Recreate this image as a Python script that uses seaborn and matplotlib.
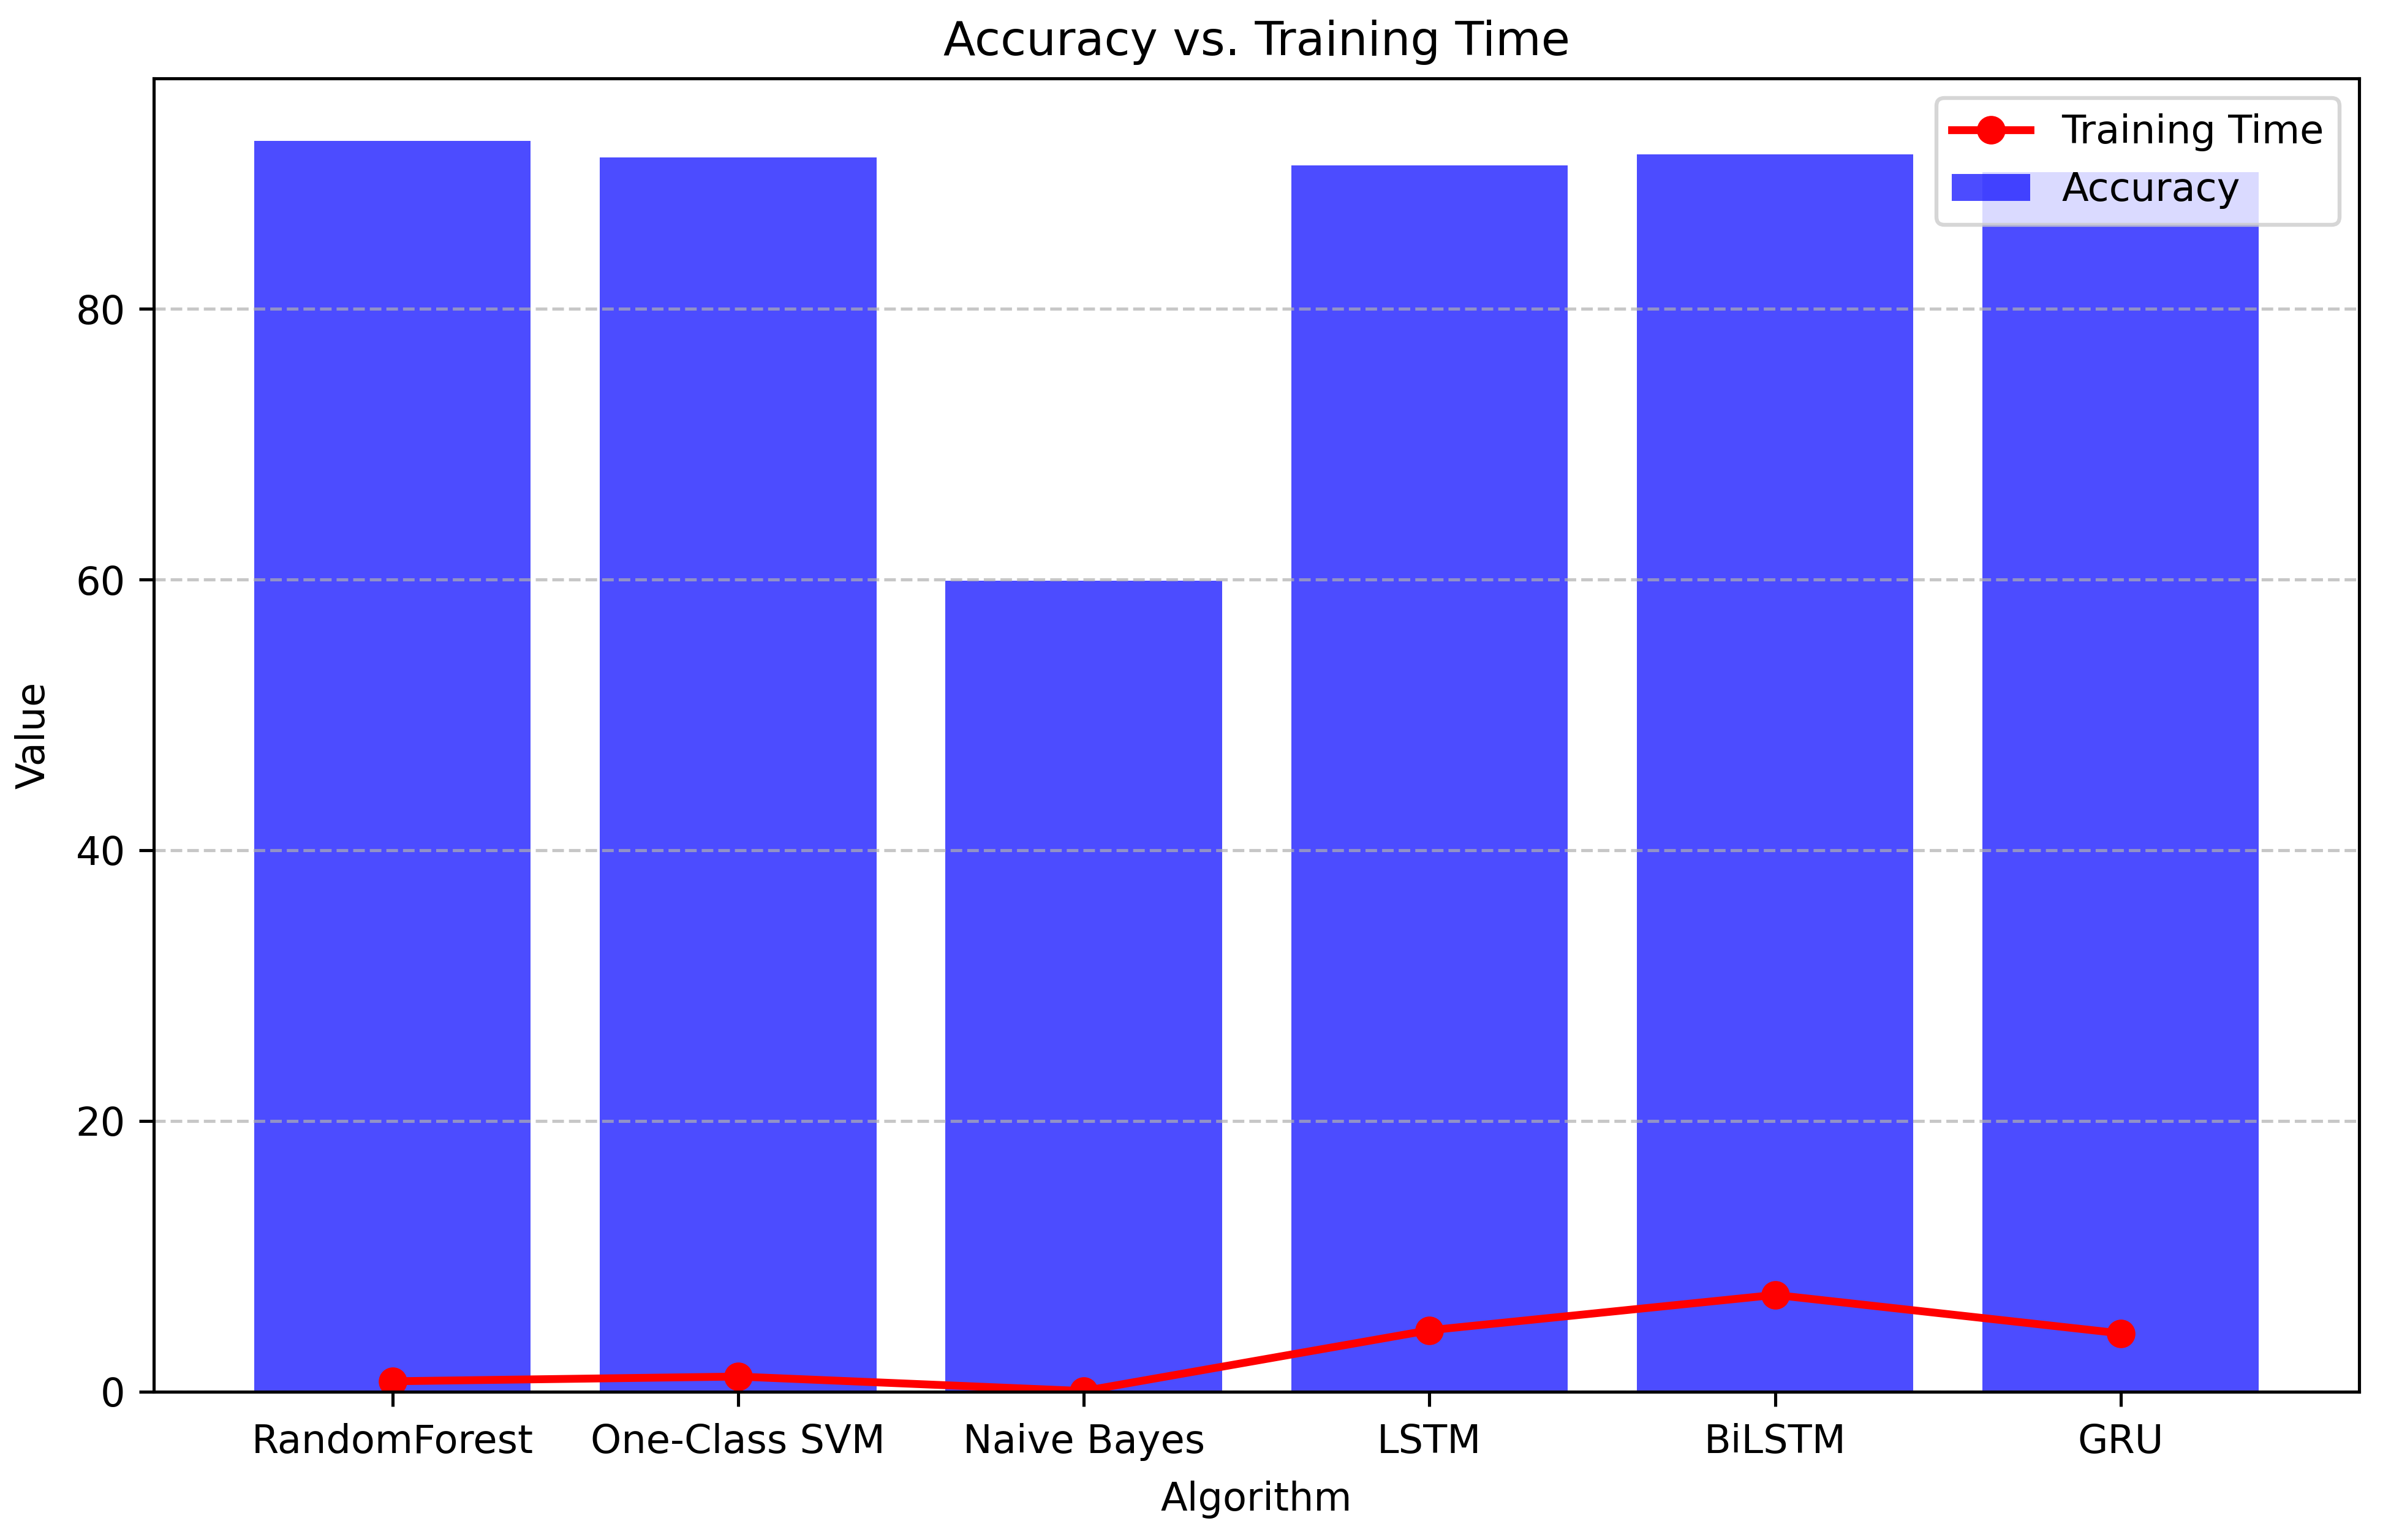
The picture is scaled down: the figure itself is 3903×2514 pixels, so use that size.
import matplotlib
matplotlib.use("Agg")
import matplotlib.pyplot as plt
import seaborn as sns
import pandas as pd

algorithms = ["RandomForest", "One-Class SVM", "Naive Bayes", "LSTM", "BiLSTM", "GRU"]
accuracy = [92.4, 91.2, 59.9, 90.6, 91.4, 90.1]
training_time = [0.77, 1.12, 0.05, 4.54, 7.15, 4.31]

df = pd.DataFrame({"Algorithm": algorithms,
                   "Accuracy": accuracy,
                   "Training Time": training_time})

DPI = 460
fig, ax = plt.subplots(figsize=(3903 / DPI, 2514 / DPI), dpi=DPI)
fig.subplots_adjust(left=0.0644, right=0.9867, bottom=0.0963, top=0.9491)

sns.barplot(data=df, x="Algorithm", y="Accuracy", color="blue", alpha=0.7,
            saturation=1, width=0.8, errorbar=None, label="Accuracy", ax=ax)
sns.pointplot(data=df, x="Algorithm", y="Training Time", color="red",
              markers="o", linestyles="-", linewidth=2, markersize=6.3,
              markeredgewidth=1, errorbar=None, label="Training Time", ax=ax)

ax.set_xlim(-0.69, 5.69)
ax.set_axisbelow("line")
ax.yaxis.grid(True, linestyle="--", alpha=0.7)
ax.xaxis.grid(False)
ax.tick_params(axis="x", length=3.8, pad=4.2)
ax.tick_params(axis="y", length=3.8, pad=3.5)

ax.set_title("Accuracy vs. Training Time")
ax.set_xlabel("Algorithm", labelpad=5.0)
ax.set_ylabel("Value", labelpad=6.0)

handles, labels = ax.get_legend_handles_labels()
order = []
for name in ["Training Time", "Accuracy"]:
    if name in labels:
        order.append(labels.index(name))
ax.legend([handles[i] for i in order], [labels[i] for i in order], loc="upper right")

fig.savefig("out.png", dpi=DPI)
